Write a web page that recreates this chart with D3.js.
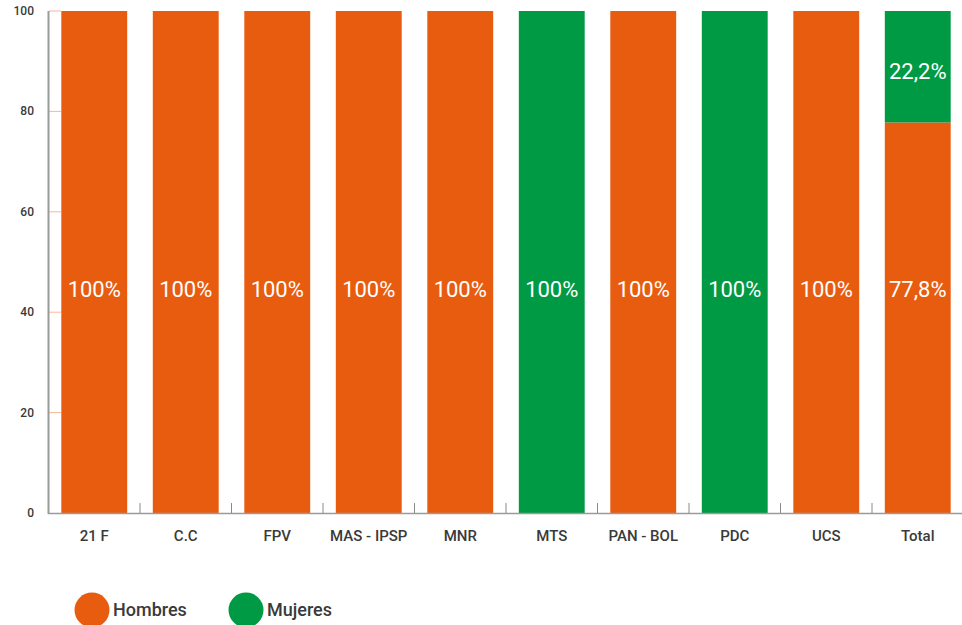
<!DOCTYPE html>
<html><head><meta charset="utf-8">
<script src="https://cdn.jsdelivr.net/npm/d3@7"></script>
<style>
body{margin:0;background:#fff;}
svg{display:block;}
.cond{font-family:Roboto,'Noto Sans',sans-serif;font-weight:500;}
</style></head>
<body><svg id="chart" width="962" height="625"></svg>
<script>
const categories = ["21 F","C.C","FPV","MAS - IPSP","MNR","MTS","PAN - BOL","PDC","UCS","Total"];
const hombres = [100,100,100,100,100,0,100,0,100,77.8];
const mujeres = [0,0,0,0,0,100,0,100,0,22.2];
const yTicks = [0,20,40,60,80,100];
const seriesNames = ["Hombres","Mujeres"];
const colors = ["#E85C10","#009A44"];

const svg = d3.select("#chart");
const x = d3.scaleBand().domain(categories).range([48.5, 963.5]).paddingInner(0.28).paddingOuter(0.14);
const y = d3.scaleLinear().domain([0,100]).range([513, 11]);

const rows = categories.map((c,i)=>({cat:c, Hombres:hombres[i], Mujeres:mujeres[i]}));
const stack = d3.stack().keys(seriesNames)(rows);

// y tick marks (short light lines)
svg.append("g").selectAll("line").data(yTicks.filter(t=>t>0)).join("line")
  .attr("x1",49).attr("x2",61).attr("y1",d=>y(d)).attr("y2",d=>y(d))
  .attr("stroke","#f5b898").attr("stroke-width",1);

// bars
stack.forEach((s,si)=>{
  svg.append("g").attr("fill",colors[si]).selectAll("rect").data(s).join("rect")
    .attr("x",d=>x(d.data.cat)).attr("width",x.bandwidth())
    .attr("y",d=>y(d[1])).attr("height",d=>y(d[0])-y(d[1]));
});

// x axis
const xAxisG = svg.append("g");
xAxisG.append("line").attr("x1",48).attr("x2",962).attr("y1",513.5).attr("y2",513.5)
  .attr("stroke","#9a9a9a").attr("stroke-width",1.5);
const bounds = categories.slice(1).map(c=>x(c) - x.step()*x.paddingInner()/2);
xAxisG.selectAll("line.tk").data(bounds).join("line").attr("class","tk")
  .attr("x1",d=>d).attr("x2",d=>d).attr("y1",503).attr("y2",513)
  .attr("stroke","#8a8a8a").attr("stroke-width",1);
xAxisG.selectAll("text").data(categories).join("text").attr("class","cond")
  .attr("x",d=>x(d)+x.bandwidth()/2).attr("y",541)
  .attr("text-anchor","middle")
  .attr("font-size",15).attr("fill","#3a3a3a").text(d=>d);

// y axis
const yAxisG = svg.append("g");
yAxisG.append("line").attr("x1",48.5).attr("x2",48.5).attr("y1",y(100)).attr("y2",y(0)+1)
  .attr("stroke","#9a9a9a").attr("stroke-width",2);
yAxisG.selectAll("text").data(yTicks).join("text").attr("class","cond")
  .attr("x",34).attr("y",d=>y(d)+4).attr("text-anchor","end")
  .attr("font-size",12).attr("fill","#3a3a3a").text(d=>d);

// value labels
const fmt = v => (v===100?"100":d3.format(".1f")(v).replace(".",",")) + "%";
const baseLabelLevel = 44.6;
stack.forEach((s,si)=>{
  svg.append("g").selectAll("text").data(s.filter(d=>d[1]-d[0]>0)).join("text")
    .attr("x",d=>x(d.data.cat)+x.bandwidth()/2)
    .attr("y",d=> d[0]===0 ? y(baseLabelLevel) : y((d[0]+d[1])/2)+5)
    .attr("dy","0.35em").attr("text-anchor","middle")
    .attr("font-family","Roboto, 'Open Sans', sans-serif").attr("font-size",22)
    .attr("fill","#fff").text(d=>fmt(d[1]-d[0]));
});

// legend
const legendX = [92, 246];
const lg = svg.append("g");
seriesNames.forEach((n,i)=>{
  lg.append("circle").attr("cx",legendX[i]).attr("cy",610).attr("r",17.5).attr("fill",colors[i]);
  lg.append("text").attr("class","cond").attr("x",legendX[i]+21).attr("y",616)
    .attr("font-size",18).attr("fill","#3a3a3a").text(n);
});
</script></body></html>
